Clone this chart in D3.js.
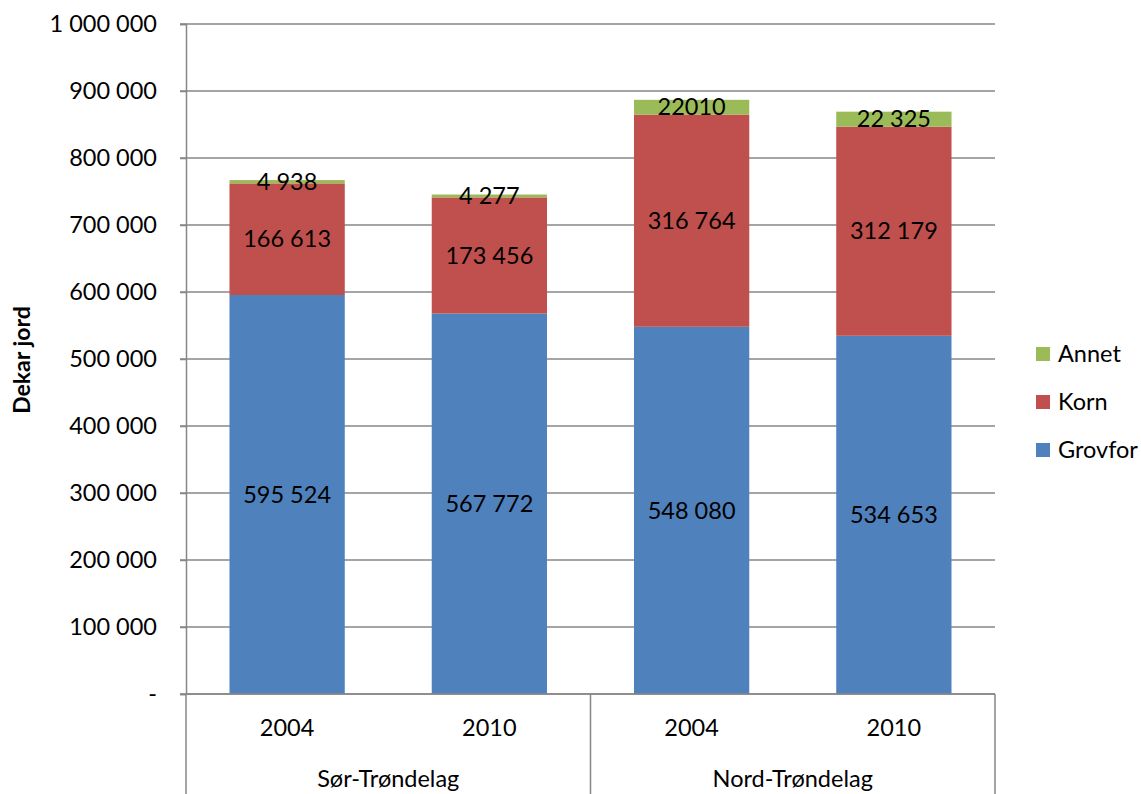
<!DOCTYPE html>
<html><head><meta charset="utf-8">
<script src="https://cdn.jsdelivr.net/npm/d3@7"></script>
<style>body{margin:0;background:#fff;font-family:Lato,"Open Sans",sans-serif}</style>
</head><body><svg id="c" width="1141" height="794"></svg>
<script>
const categories = ["2004","2010","2004","2010"];
const groups = ["Sør-Trøndelag","Nord-Trøndelag"];
const grovfor = [595524, 567772, 548080, 534653];
const korn = [166613, 173456, 316764, 312179];
const annet = [4938, 4277, 22010, 22325];
const grovforLabels = ["595 524","567 772","548 080","534 653"];
const kornLabels = ["166 613","173 456","316 764","312 179"];
const annetLabels = ["4 938","4 277","22010","22 325"];
const yTicks = [0,100000,200000,300000,400000,500000,600000,700000,800000,900000,1000000];
const seriesNames = ["Grovfor","Korn","Annet"];
const colors = {Grovfor:"#4f81bd", Korn:"#c0504d", Annet:"#9bbb59"};

const FS = 23.5;
const svg = d3.select("#c");
const L=186, R=995, T=24, B=694;
const x = d3.scaleBand().domain(d3.range(categories.length)).range([L,R]).paddingInner(0.43).paddingOuter(0.215);
const y = d3.scaleLinear().domain([0,1000000]).range([B,T]);
const fmt = v => v===0 ? "-" : d3.format(",")(v).replace(/,/g," ");

svg.append("g").selectAll("line").data(yTicks).join("line")
  .attr("x1",L-6).attr("x2",R).attr("y1",d=>y(d)).attr("y2",d=>y(d))
  .attr("stroke","#878787").attr("stroke-width",1.5);
const ya = svg.append("g").attr("transform",`translate(${L},0)`)
  .call(d3.axisLeft(y).tickValues(yTicks).tickFormat(fmt).tickSize(6).tickPadding(23));
ya.select(".domain").attr("stroke","#878787").attr("stroke-width",1.5);
ya.selectAll(".tick line").attr("stroke","#878787").attr("stroke-width",1.5);
ya.selectAll("text").attr("font-size",FS).attr("fill","#000").attr("font-family","Lato, 'Open Sans', sans-serif");

const rows = categories.map((c,i)=>({i, Grovfor:grovfor[i], Korn:korn[i], Annet:annet[i]}));
const stack = d3.stack().keys(seriesNames)(rows);
const labels = {Grovfor:grovforLabels, Korn:kornLabels, Annet:annetLabels};
stack.forEach(s=>{
  svg.append("g").selectAll("rect").data(s).join("rect")
    .attr("x",(d,i)=>x(i)).attr("width",x.bandwidth())
    .attr("y",d=>y(d[1])).attr("height",d=>y(d[0])-y(d[1]))
    .attr("fill",colors[s.key]);
});
stack.forEach(s=>{
  svg.append("g").selectAll("text").data(s).join("text")
    .attr("x",(d,i)=>x(i)+x.bandwidth()/2)
    .attr("y",d=>(y(d[0])+y(d[1]))/2)
    .attr("dy","0.35em").attr("text-anchor","middle")
    .attr("font-size",FS).attr("fill","#000")
    .text((d,i)=>labels[s.key][i]);
});

svg.append("line").attr("x1",L).attr("x2",R).attr("y1",B).attr("y2",B).attr("stroke","#878787").attr("stroke-width",1.5);
const seps = [L, (L+R)/2, R];
svg.append("g").selectAll("line").data(seps).join("line")
  .attr("x1",d=>d).attr("x2",d=>d).attr("y1",B).attr("y2",794)
  .attr("stroke","#878787").attr("stroke-width",1.5);
svg.append("g").selectAll("text").data(categories).join("text")
  .attr("x",(d,i)=>x(i)+x.bandwidth()/2).attr("y",728).attr("dy","0.35em")
  .attr("text-anchor","middle").attr("font-size",FS).text(d=>d);
svg.append("g").selectAll("text").data(groups).join("text")
  .attr("x",(d,i)=>(seps[i]+seps[i+1])/2).attr("y",779).attr("dy","0.35em")
  .attr("text-anchor","middle").attr("font-size",FS).text(d=>d);

svg.append("text").attr("transform","translate(22,360) rotate(-90)")
  .attr("text-anchor","middle").attr("dy","0.35em").attr("font-size",23).attr("font-weight","bold").text("Dekar jord");

const leg = ["Annet","Korn","Grovfor"];
const lg = svg.append("g").selectAll("g").data(leg).join("g")
  .attr("transform",(d,i)=>`translate(1036,${347+i*48})`);
lg.append("rect").attr("width",14).attr("height",14).attr("fill",d=>colors[d]);
lg.append("text").attr("x",22).attr("y",7).attr("dy","0.35em").attr("font-size",FS).text(d=>d);
</script></body></html>
